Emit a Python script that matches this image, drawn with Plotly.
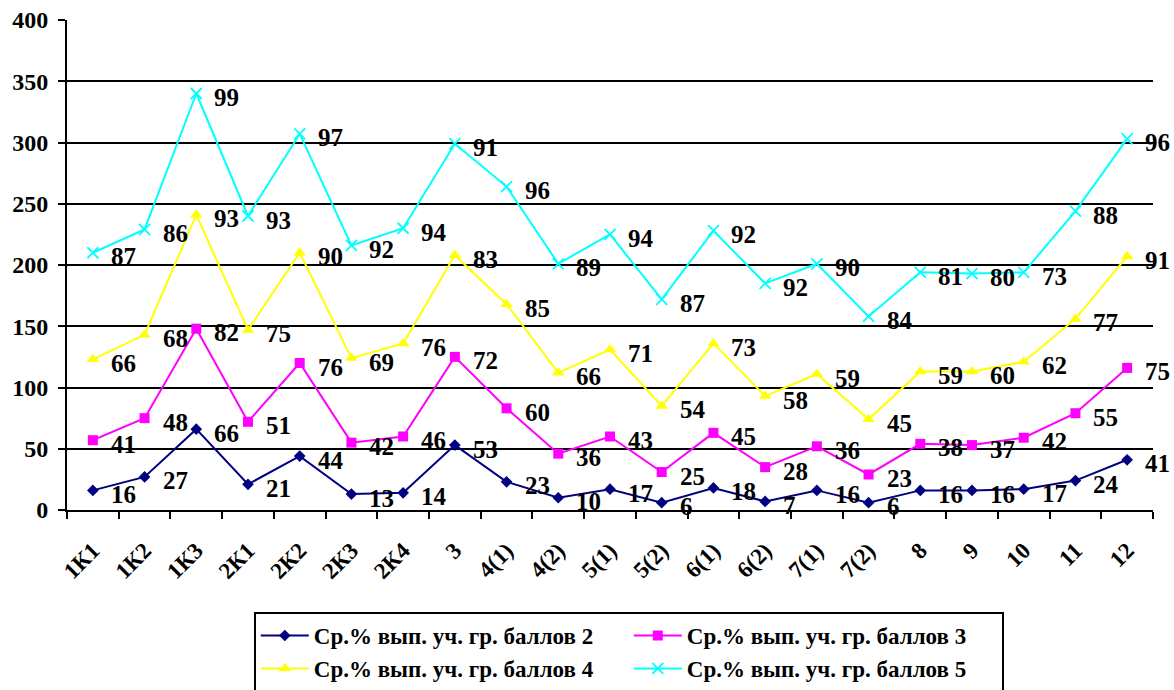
import numpy as np
import plotly.graph_objects as go

categories = ["1К1", "1К2", "1К3", "2К1", "2К2", "2К3", "2К4", "3", "4(1)", "4(2)",
              "5(1)", "5(2)", "6(1)", "6(2)", "7(1)", "7(2)", "8", "9", "10", "11", "12"]

s2 = [16, 27, 66, 21, 44, 13, 14, 53, 23, 10, 17, 6, 18, 7, 16, 6, 16, 16, 17, 24, 41]
s3 = [41, 48, 82, 51, 76, 42, 46, 72, 60, 36, 43, 25, 45, 28, 36, 23, 38, 37, 42, 55, 75]
s4 = [66, 68, 93, 75, 90, 69, 76, 83, 85, 66, 71, 54, 73, 58, 59, 45, 59, 60, 62, 77, 91]
s5 = [87, 86, 99, 93, 97, 92, 94, 91, 96, 89, 94, 87, 92, 92, 90, 84, 81, 80, 73, 88, 96]

names = ["Ср.% вып. уч. гр. баллов 2", "Ср.% вып. уч. гр. баллов 3",
         "Ср.% вып. уч. гр. баллов 4", "Ср.% вып. уч. гр. баллов 5"]
colors = ["#000080", "#FF00FF", "#FFFF00", "#00FFFF"]
symbols = ["diamond", "square", "triangle-up", "x-thin"]
sizes = [9, 10, 11, 11]

series = [s2, s3, s4, s5]
stacked = np.cumsum(np.array(series), axis=0)
idx = list(range(len(categories)))

FONT = "Liberation Serif"

fig = go.Figure()
annotations = []
for i, (vals, cum) in enumerate(zip(series, stacked)):
    marker = dict(symbol=symbols[i], size=sizes[i], color=colors[i])
    if symbols[i] == "x-thin":
        marker["line"] = dict(color=colors[i], width=1.8)
    fig.add_trace(go.Scatter(
        x=idx, y=cum, name=names[i], mode="lines+markers",
        line=dict(color=colors[i], width=2), marker=marker,
    ))
    for k, y, v in zip(idx, cum, vals):
        annotations.append(dict(
            x=k, y=y, text=str(v), showarrow=False, xanchor="left", yanchor="middle",
            xshift=16, yshift=-4,
            font=dict(family=FONT, size=25, color="black", weight="bold"),
        ))

fig.update_layout(
    width=1174, height=690,
    margin=dict(l=67, r=21, t=20, b=180),
    paper_bgcolor="white", plot_bgcolor="white",
    annotations=annotations,
    showlegend=True,
    legend=dict(
        orientation="h", x=0.172, xanchor="left",
        yref="container", y=0.113, yanchor="top",
        bordercolor="black", borderwidth=2, bgcolor="white",
        font=dict(family=FONT, size=23, color="black", weight="bold"),
        entrywidth=310, entrywidthmode="pixels",
        itemwidth=48,
    ),
)
fig.update_xaxes(
    tickmode="array", tickvals=idx, ticktext=categories,
    range=[-0.5, len(categories) - 0.5], automargin=False,
    showline=True, linecolor="black", linewidth=2,
    ticks="", showgrid=False, zeroline=False,
    tickangle=-45, ticklabelstandoff=16,
    tickfont=dict(family=FONT, size=23, color="black", weight="bold"),
    minor=dict(tickvals=[k - 0.5 for k in idx] + [len(idx) - 0.5], ticks="outside",
               ticklen=7, tickwidth=1.5, tickcolor="black", showgrid=False),
)
fig.update_yaxes(
    range=[0, 400], dtick=50, automargin=False,
    showline=True, linecolor="black", linewidth=2,
    ticks="outside", ticklen=7, tickwidth=1.5, tickcolor="black",
    showgrid=True, gridcolor="black", gridwidth=1.5, zeroline=False,
    ticklabeloverflow="allow", ticklabelstandoff=5,
    tickfont=dict(family=FONT, size=24, color="black", weight="bold"),
)

fig.write_html("out.html", config={"displayModeBar": False},
               post_script="document.body.style.margin='0';document.body.style.overflow='hidden';")
